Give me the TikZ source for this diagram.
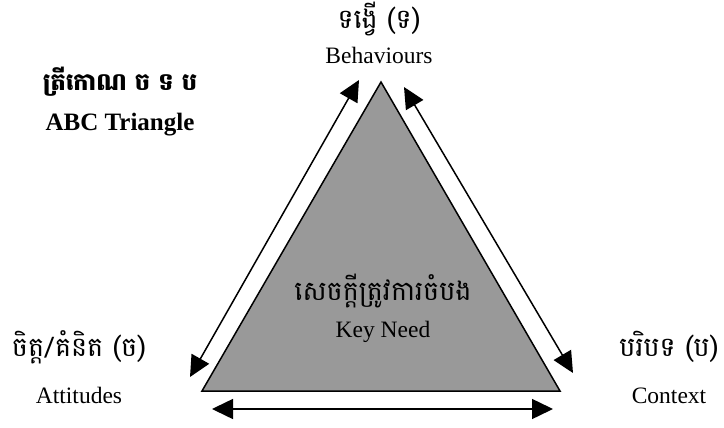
\documentclass[tikz,border=0pt]{standalone}
\usepackage{fontspec}
\setmainfont{Liberation Serif}
\newfontfamily\khmer[Script=Khmer]{Battambang}
\usetikzlibrary{arrows.meta}
\begin{document}
\begin{tikzpicture}[x=1pt,y=-1pt,
  dbl/.style={{Triangle[length=21pt,width=20pt]}-{Triangle[length=21pt,width=20pt]}, line width=1.5pt},
  en/.style={inner sep=0pt, anchor=base, font=\fontsize{23.5}{26}\selectfont},
  kh/.style={inner sep=0pt, anchor=base, font=\khmer\fontsize{27}{30}\selectfont},
  tri/.style={draw=black, fill=black!40, line width=1.5pt, line join=miter}]
\useasboundingbox (0,0) rectangle (724,428);
% triangle corners
\coordinate (apex) at (381,82);
\coordinate (bl) at (202,391);
\coordinate (br) at (560,391);
\draw[tri] (apex) -- (bl) -- (br) -- cycle;
% arrow ends
\coordinate (la) at (190,377);
\coordinate (lb) at (359,80);
\coordinate (ra) at (404,87);
\coordinate (rb) at (573,373);
\coordinate (ba) at (212,409);
\coordinate (bb) at (553,409);
\draw[dbl] (la) -- (lb);
\draw[dbl] (ra) -- (rb);
\draw[dbl] (ba) -- (bb);
% labels
\node[kh, font=\khmer\bfseries\fontsize{24}{28}\selectfont] (titlekh) at (120,91) {ត្រីកោណ ច ទ ប};
\node[en, font=\bfseries\fontsize{25}{28}\selectfont] (titleen) at (120,131) {ABC Triangle};
\node[kh] (topkh) at (379,29) {ទង្វើ (ទ)};
\node[en] (topen) at (379,64) {Behaviours};
\node[kh] (cenkh) at (383,300) {សេចក្តីត្រូវការចំបង};
\node[en] (cenen) at (383,337) {Key Need};
\node[kh] (leftkh) at (79,356) {ចិត្ត/គំនិត (ច)};
\node[en] (leften) at (79,403) {Attitudes};
\node[kh] (rightkh) at (669,356) {បរិបទ (ប)};
\node[en] (righten) at (669,403) {Context};
\end{tikzpicture}
\end{document}
